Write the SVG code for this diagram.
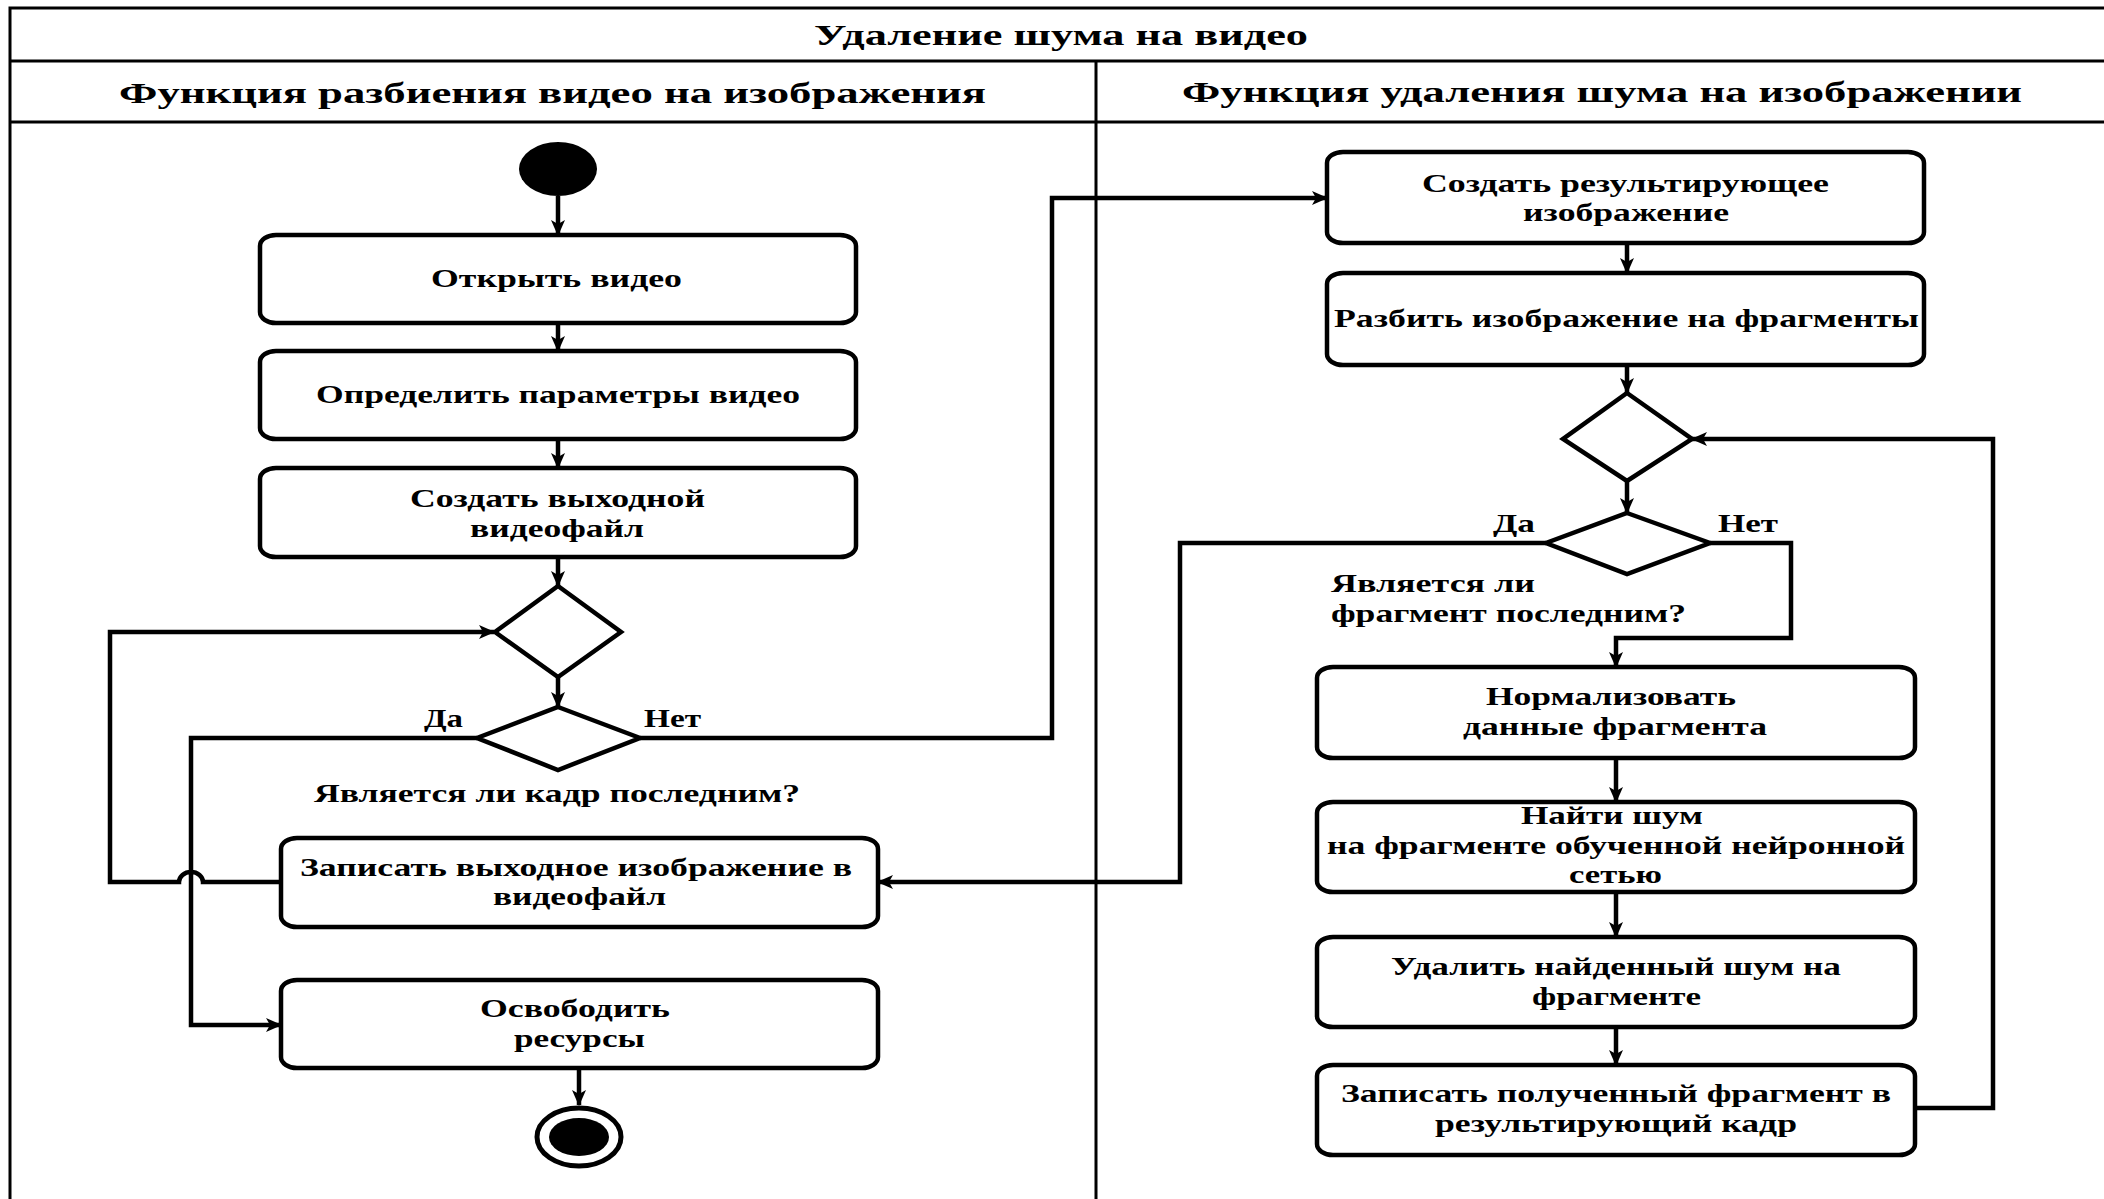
<svg xmlns="http://www.w3.org/2000/svg" width="2104" height="1199" viewBox="0 0 2104 1199">
<defs>
<style>
.frame{fill:none;stroke:#000;stroke-width:3}
.box{fill:#fff;stroke:#000;stroke-width:4.5}
.dia{fill:#fff;stroke:#000;stroke-width:4.5;stroke-linejoin:miter}
.con{fill:none;stroke:#000;stroke-width:4.5;stroke-linejoin:miter}
.arr{fill:none;stroke:#000;stroke-width:4.5;marker-end:url(#ah)}
text{font-family:"Liberation Serif","Times New Roman",serif;font-weight:bold;fill:#000}
.h{font-size:30px}
.t{font-size:26px}
</style>
<marker id="ah" viewBox="0 0 16 14" refX="15" refY="7" markerWidth="16" markerHeight="14" orient="auto" markerUnits="userSpaceOnUse">
<path d="M0,0 L16,7 L0,14 L4,7 Z" fill="#000"/>
</marker>
</defs>
<rect width="2104" height="1199" fill="#fff"/>
<g id="frame">
<rect class="frame" x="10" y="8" width="2110" height="1210"/>
<line class="frame" x1="10" y1="61" x2="2110" y2="61"/>
<line class="frame" x1="10" y1="122" x2="2110" y2="122"/>
<line class="frame" x1="1096" y1="61" x2="1096" y2="1210"/>
<text class="h" x="814" y="45" textLength="494" lengthAdjust="spacingAndGlyphs" style="font-size:29px">Удаление шума на видео</text>
<text class="h" x="119" y="103" textLength="867" lengthAdjust="spacingAndGlyphs">Функция разбиения видео на изображения</text>
<text class="h" x="1182" y="102" textLength="840" lengthAdjust="spacingAndGlyphs">Функция удаления шума на изображении</text>
</g>
<g id="connectors">
<path class="arr" d="M558,196 L558,235"/>
<path class="arr" d="M558,323 L558,351"/>
<path class="arr" d="M558,439 L558,468"/>
<path class="arr" d="M558,557 L558,586"/>
<path class="arr" d="M558,677 L558,707"/>
<path class="arr" d="M640,738 L1052,738 L1052,198 L1327,198"/>
<path class="arr" d="M477,738 L191,738 L191,1025 L281,1025"/>
<path class="arr" d="M281,882 L203,882 A12,10 0 0 0 179,882 L110,882 L110,632 L494,632"/>
<path class="arr" d="M579,1068 L579,1105"/>
<path class="arr" d="M1627,243 L1627,273"/>
<path class="arr" d="M1627,365 L1627,393"/>
<path class="arr" d="M1627,481 L1627,513"/>
<path class="arr" d="M1546,543 L1180,543 L1180,882 L878,882"/>
<path class="arr" d="M1710,543 L1791,543 L1791,638 L1616,638 L1616,667"/>
<path class="arr" d="M1616,758 L1616,802"/>
<path class="arr" d="M1616,892 L1616,937"/>
<path class="arr" d="M1616,1027 L1616,1065"/>
<path class="arr" d="M1915,1108 L1993,1108 L1993,439 L1692,439"/>
<text class="t" x="424" y="727" textLength="39" lengthAdjust="spacingAndGlyphs">Да</text>
<text class="t" x="644" y="727" textLength="57" lengthAdjust="spacingAndGlyphs">Нет</text>
<text class="t" x="1493" y="532" textLength="42" lengthAdjust="spacingAndGlyphs">Да</text>
<text class="t" x="1718" y="532" textLength="60" lengthAdjust="spacingAndGlyphs">Нет</text>
</g>
<g id="start"><ellipse cx="558" cy="169" rx="39" ry="27" fill="#000"/></g>
<g id="open-video">
<rect class="box" x="260" y="235" width="596" height="88" rx="16" ry="11"/>
<text class="t" x="431" y="287" textLength="251" lengthAdjust="spacingAndGlyphs">Открыть видео</text>
</g>
<g id="params">
<rect class="box" x="260" y="351" width="596" height="88" rx="16" ry="11"/>
<text class="t" x="316" y="403" textLength="484" lengthAdjust="spacingAndGlyphs">Определить параметры видео</text>
</g>
<g id="create-out">
<rect class="box" x="260" y="468" width="596" height="89" rx="16" ry="11"/>
<text class="t" x="410" y="507" textLength="295" lengthAdjust="spacingAndGlyphs">Создать выходной</text>
<text class="t" x="470" y="537" textLength="174" lengthAdjust="spacingAndGlyphs">видеофайл</text>
</g>
<g id="merge1"><polygon class="dia" points="558,586 621,632 558,677 495,632"/></g>
<g id="decision1">
<polygon class="dia" points="558,707 640,738 558,770 477,738"/>
<text class="t" x="314" y="802" textLength="486" lengthAdjust="spacingAndGlyphs">Является ли кадр последним?</text>
</g>
<g id="write-frame">
<rect class="box" x="281" y="838" width="597" height="89" rx="16" ry="11"/>
<text class="t" x="300" y="876" textLength="552" lengthAdjust="spacingAndGlyphs">Записать выходное изображение в</text>
<text class="t" x="493" y="905" textLength="173" lengthAdjust="spacingAndGlyphs">видеофайл</text>
</g>
<g id="free">
<rect class="box" x="281" y="980" width="597" height="88" rx="16" ry="11"/>
<text class="t" x="480" y="1017" textLength="190" lengthAdjust="spacingAndGlyphs">Освободить</text>
<text class="t" x="514" y="1047" textLength="131" lengthAdjust="spacingAndGlyphs">ресурсы</text>
</g>
<g id="end">
<ellipse cx="579" cy="1137" rx="42" ry="29" fill="#fff" stroke="#000" stroke-width="5"/>
<ellipse cx="579" cy="1137" rx="30" ry="19" fill="#000"/>
</g>
<g id="create-result">
<rect class="box" x="1327" y="152" width="597" height="91" rx="16" ry="11"/>
<text class="t" x="1422" y="192" textLength="407" lengthAdjust="spacingAndGlyphs">Создать результирующее</text>
<text class="t" x="1523" y="221" textLength="206" lengthAdjust="spacingAndGlyphs">изображение</text>
</g>
<g id="split">
<rect class="box" x="1327" y="273" width="597" height="92" rx="16" ry="11"/>
<text class="t" x="1334" y="327" textLength="585" lengthAdjust="spacingAndGlyphs">Разбить изображение на фрагменты</text>
</g>
<g id="merge2"><polygon class="dia" points="1627,393 1692,439 1627,481 1563,439"/></g>
<g id="decision2">
<polygon class="dia" points="1627,513 1710,543 1627,574 1546,543"/>
<text class="t" x="1331" y="592" textLength="204" lengthAdjust="spacingAndGlyphs">Является ли</text>
<text class="t" x="1331" y="622" textLength="355" lengthAdjust="spacingAndGlyphs">фрагмент последним?</text>
</g>
<g id="normalize">
<rect class="box" x="1317" y="667" width="598" height="91" rx="16" ry="11"/>
<text class="t" x="1486" y="705" textLength="250" lengthAdjust="spacingAndGlyphs">Нормализовать</text>
<text class="t" x="1463" y="735" textLength="304" lengthAdjust="spacingAndGlyphs">данные фрагмента</text>
</g>
<g id="find-noise">
<rect class="box" x="1317" y="802" width="598" height="90" rx="16" ry="11"/>
<text class="t" x="1521" y="824" textLength="182" lengthAdjust="spacingAndGlyphs">Найти шум</text>
<text class="t" x="1327" y="854" textLength="578" lengthAdjust="spacingAndGlyphs">на фрагменте обученной нейронной</text>
<text class="t" x="1569" y="883" textLength="93" lengthAdjust="spacingAndGlyphs">сетью</text>
</g>
<g id="remove-noise">
<rect class="box" x="1317" y="937" width="598" height="90" rx="16" ry="11"/>
<text class="t" x="1391" y="975" textLength="450" lengthAdjust="spacingAndGlyphs">Удалить найденный шум на</text>
<text class="t" x="1532" y="1005" textLength="169" lengthAdjust="spacingAndGlyphs">фрагменте</text>
</g>
<g id="write-fragment">
<rect class="box" x="1317" y="1065" width="598" height="90" rx="16" ry="11"/>
<text class="t" x="1341" y="1102" textLength="550" lengthAdjust="spacingAndGlyphs">Записать полученный фрагмент в</text>
<text class="t" x="1435" y="1132" textLength="362" lengthAdjust="spacingAndGlyphs">результирующий кадр</text>
</g>
</svg>
